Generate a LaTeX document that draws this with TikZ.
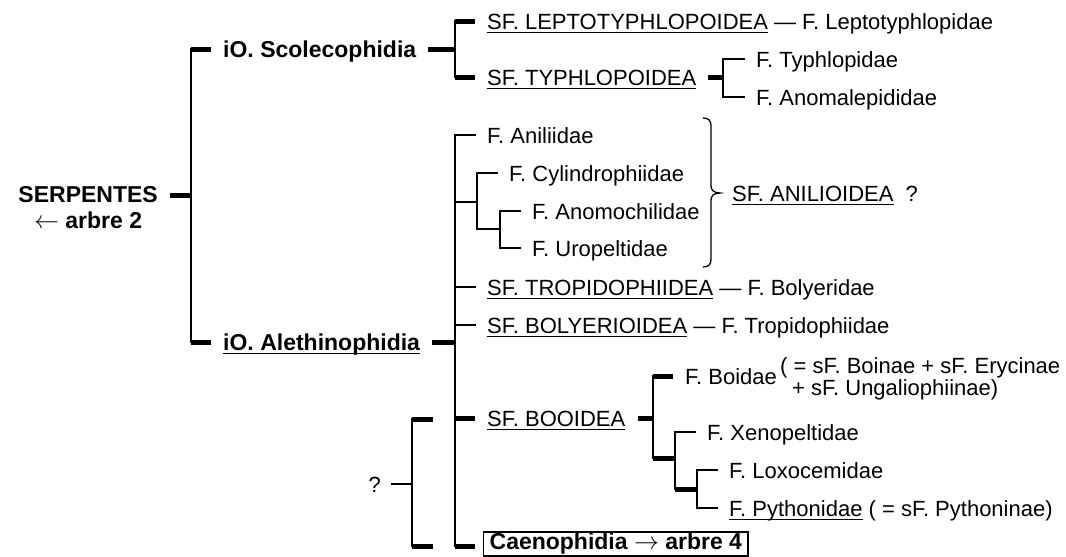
\documentclass[tikz,border=0pt]{standalone}
\usepackage{fontspec}
\setmainfont{Liberation Sans}
\newsavebox{\ulbox}
\newcommand{\myul}[1]{\sbox{\ulbox}{#1}\rlap{\vrule width \wd\ulbox height -2.6pt depth 4.0pt}\usebox{\ulbox}}
\newcommand{\regf}{\fontsize{22}{24}\selectfont}
\newcommand{\boldf}{\fontsize{23}{25}\selectfont\bfseries}
\begin{document}
\begin{tikzpicture}[x=1pt,y=-1pt,
  lbl/.style={inner xsep=12pt, inner ysep=0pt, text height=16pt, text depth=0pt, anchor=west, font=\regf},
  blbl/.style={lbl, font=\boldf},
  thinl/.style={line width=1.5pt, line cap=rect},
  thickl/.style={line width=5pt},
  bracel/.style={line width=1.3pt},
]
\useasboundingbox (0,0) rectangle (1066,557);
% labels
\node[align=center, anchor=north east, inner xsep=12pt, inner ysep=0pt, font={\fontsize{23}{26}\selectfont\bfseries}] (serp) at (170,186.5) {SERPENTES\\$\leftarrow$ arbre 2};
\node[blbl] (scol) at (211,49) {iO.\ Scolecophidia};
\node[blbl] (aleth) at (211,342) {\myul{iO.\ Alethinophidia}};
\node[lbl] (lep) at (475,21) {\myul{SF. LEPTOTYPHLOPOIDEA} — F. Leptotyphlopidae};
\node[lbl] (typ) at (475,77) {\myul{SF. TYPHLOPOIDEA}};
\node[lbl] (typh) at (744,59) {F. Typhlopidae};
\node[lbl] (anom) at (744,97) {F. Anomalepididae};
\node[lbl] (ani) at (475,135) {F. Aniliidae};
\node[lbl] (cyl) at (497,173) {F. Cylindrophiidae};
\node[lbl] (anmo) at (520,211) {F. Anomochilidae};
\node[lbl] (uro) at (520,248) {F. Uropeltidae};
\node[lbl] (anil) at (720,193) {\myul{SF. ANILIOIDEA}\hspace{12pt}?};
\node[lbl] (trop) at (475,287) {\myul{SF. TROPIDOPHIIDEA} — F. Bolyeridae};
\node[lbl] (boly) at (475,325) {\myul{SF. BOLYERIOIDEA} — F. Tropidophiidae};
\node[lbl] (boo) at (475,418) {\myul{SF. BOOIDEA}};
\node[lbl] (boid) at (673,376) {F. Boidae};
\node[lbl] (boiA) at (768,365) {( = sF. Boinae + sF. Erycinae};
\node[lbl] (boiB) at (780,387) {+ sF. Ungaliophiinae)};
\node[lbl] (xen) at (695,432) {F. Xenopeltidae};
\node[lbl] (lox) at (717,470) {F. Loxocemidae};
\node[lbl] (pyt) at (717,508) {\myul{F. Pythonidae} ( = sF. Pythoninae)};
\node[blbl, draw, line width=1.3pt, inner xsep=6pt, inner ysep=1.5pt, text depth=5pt] (caen) at (483,544) {Caenophidia $\rightarrow$ arbre 4};
\node[lbl, anchor=east, inner xsep=11pt] (q) at (392,484) {?};
% coordinates
\coordinate (r0) at (191,195);
\coordinate (r1) at (191,49);
\coordinate (r2) at (191,342);
\coordinate (s0) at (455,49);
\coordinate (s1) at (455,21);
\coordinate (s2) at (455,77);
\coordinate (t0) at (723,77);
\coordinate (t1) at (723,59);
\coordinate (t2) at (723,97);
\coordinate (a0) at (455,342);
\coordinate (a1) at (455,135);
\coordinate (a2) at (455,546);
\coordinate (a3) at (455,287);
\coordinate (a4) at (455,325);
\coordinate (a5) at (455,418);
\coordinate (c0) at (455,202);
\coordinate (c1) at (477,202);
\coordinate (c2) at (477,173);
\coordinate (c3) at (477,229);
\coordinate (d0) at (500,229);
\coordinate (d1) at (500,211);
\coordinate (d2) at (500,248);
\coordinate (b0) at (653,418);
\coordinate (b1) at (653,376);
\coordinate (b2) at (653,458);
\coordinate (e0) at (675,458);
\coordinate (e1) at (675,432);
\coordinate (e2) at (675,489);
\coordinate (f0) at (697,489);
\coordinate (f1) at (697,470);
\coordinate (f2) at (697,508);
\coordinate (q0) at (412,484);
\coordinate (q1) at (412,419);
\coordinate (q2) at (412,546);
\coordinate (q1e) at (433,419);
\coordinate (q2e) at (433,546);
\coordinate (ce) at (475,546);
% root
\draw[thickl] (serp.east |- r0) -- (r0);
\draw[thinl] (r1) -- (r2);
\draw[thickl] (r1) -- (scol.west);
\draw[thickl] (r2) -- (aleth.west);
% Scolecophidia
\draw[thickl] (scol.east) -- (s0);
\draw[thinl] (s1) -- (s2);
\draw[thickl] (s1) -- (lep.west);
\draw[thickl] (s2) -- (typ.west);
\draw[thickl] (typ.east) -- (t0);
\draw[thinl] (t1) -- (t2);
\draw[thinl] (t1) -- (typh.west);
\draw[thinl] (t2) -- (anom.west);
% Alethinophidia
\draw[thickl] (aleth.east) -- (a0);
\draw[thinl] (a1) -- (a2);
\draw[thinl] (a1) -- (ani.west);
\draw[thinl] (c0) -- (c1);
\draw[thinl] (c2) -- (c3);
\draw[thinl] (c2) -- (cyl.west);
\draw[thinl] (c3) -- (d0);
\draw[thinl] (d1) -- (d2);
\draw[thinl] (d1) -- (anmo.west);
\draw[thinl] (d2) -- (uro.west);
\draw[thinl] (a3) -- (trop.west);
\draw[thinl] (a4) -- (boly.west);
\draw[thickl] (a5) -- (boo.west);
\draw[thickl] (a2) -- (ce);
% Booidea
\draw[thickl] (boo.east) -- (b0);
\draw[thinl] (b1) -- (b2);
\draw[thickl] (b1) -- (boid.west);
\draw[thickl] (b2) -- (e0);
\draw[thinl] (e1) -- (e2);
\draw[thinl] (e1) -- (xen.west);
\draw[thickl] (e2) -- (f0);
\draw[thinl] (f1) -- (f2);
\draw[thinl] (f1) -- (lox.west);
\draw[thinl] (f2) -- (pyt.west);
% ? bracket
\draw[thinl] (q.east) -- (q0);
\draw[thinl] (q1) -- (q2);
\draw[thickl] (q1) -- (q1e);
\draw[thickl] (q2) -- (q2e);
% brace
\draw[bracel] (703,118) .. controls (709,118) and (711,121) .. (711,126) -- (711,186)
  .. controls (711,190) and (714,193) .. (720,193)
  .. controls (714,193) and (711,196) .. (711,200) -- (711,259)
  .. controls (711,264) and (709,267) .. (703,267);
\end{tikzpicture}
\end{document}
